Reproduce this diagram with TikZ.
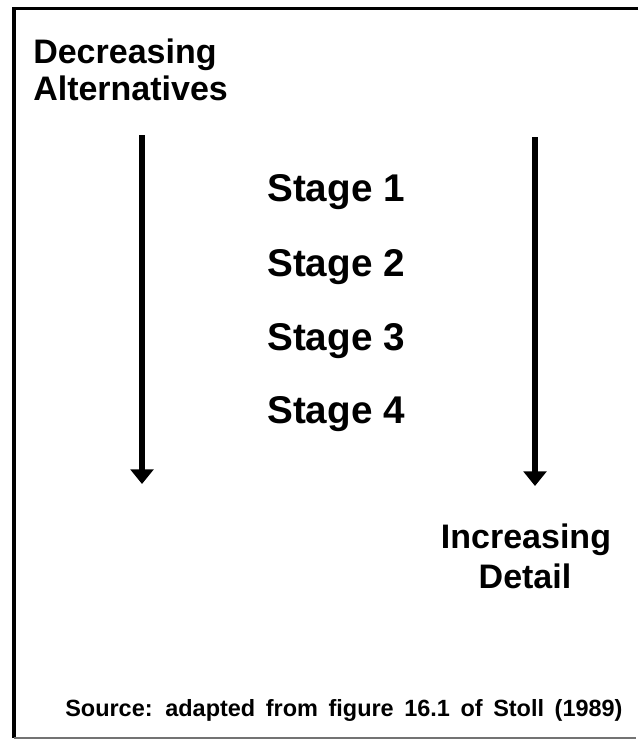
\documentclass[tikz,border=0pt]{standalone}
\usepackage{fontspec}
\setmainfont{Liberation Sans}
\usetikzlibrary{arrows.meta}

\tikzset{
	bigtext/.style={inner sep=0pt, font=\bfseries\fontsize{25.5}{30}\selectfont},
	stagetext/.style={inner sep=0pt, anchor=base west, font=\bfseries\fontsize{29}{34}\selectfont},
	flow/.style={line width=4pt, -{Triangle[width=17pt, length=11pt]}}
}

\begin{document}
\begin{tikzpicture}[x=0.75pt, y=-0.75pt]
\useasboundingbox (0,0) rectangle (639,740);

% frame
\draw[line width=2.6pt] (638,8.5) -- (14,8.5) -- (14,738);
\draw[black!55, line width=1.6pt] (14,738) -- (636,738);

\node[bigtext, anchor=base west] (dec) at (33,63) {Decreasing};
\node[bigtext, anchor=base west] (alt) at (33,100) {Alternatives};

\foreach \n/\y in {1/201.5, 2/276, 3/350, 4/423} {
	\node[stagetext] (st\n) at (267,\y) {Stage \n};
}

\node[bigtext, anchor=base] (inc) at (526,548) {Increasing};
\node[bigtext, anchor=base] (det) at (525,588) {Detail};

\coordinate (ltop) at (142,135);
\coordinate (lbot) at (142,484);
\coordinate (rtop) at (535,137);
\coordinate (rbot) at (535,486);
\draw[flow] (ltop) -- (lbot);
\draw[flow] (rtop) -- (rbot);

\node[inner sep=0pt, anchor=base west, font=\bfseries\fontsize{17.6}{21}\selectfont] (src) at (65,716.5)
	{\spaceskip=0.45em Source: adapted from figure 16.1 of Stoll (1989)};
\end{tikzpicture}
\end{document}
